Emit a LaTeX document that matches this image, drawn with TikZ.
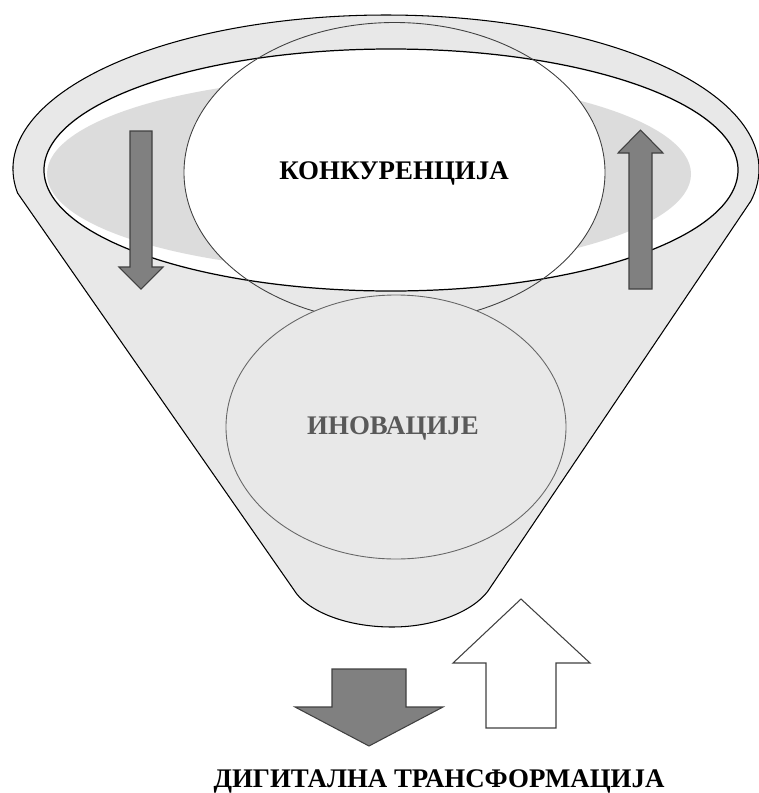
\documentclass[tikz,border=0pt]{standalone}
\usepackage{fontspec}
\setmainfont{Liberation Serif}
\definecolor{funnelgray}{HTML}{E8E8E8}
\definecolor{shadegray}{HTML}{DCDCDC}
\definecolor{arrowgray}{HTML}{808080}
\definecolor{linegray}{HTML}{404040}
\definecolor{textgray}{HTML}{595959}

\begin{document}
\begin{tikzpicture}[x=0.2mm,y=-0.2mm,
        outline/.style={draw=black,line width=0.6pt},
        thinline/.style={draw=linegray,line width=0.5pt},
        blockarrow/.style={draw=linegray,line width=0.6pt,line join=miter},
        headtext/.style={font=\bfseries\fontsize{15.3}{18}\selectfont,anchor=base,inner sep=0pt}]
    \useasboundingbox (0,0) rectangle (759,793);

    % funnel
    \path[outline,fill=funnelgray] (17.6,193.1) arc[start angle=171,end angle=372,x radius=373,y radius=154]
        -- (490,588) .. controls (478,608) and (440,627) .. (392,627)
        .. controls (344,627) and (306,610) .. (294,590) -- cycle;

    % rim
    \path[fill=white] (391,170) ellipse[x radius=347,y radius=121];
    \path[fill=shadegray] (369,174) ellipse[x radius=322,y radius=97];
    \begin{scope}
        \clip (391,170) ellipse[x radius=347,y radius=121];
        \path[fill=white] (394.5,172.5) ellipse[x radius=210.5,y radius=150];
    \end{scope}
    \path[outline,line width=0.7pt] (391,170) ellipse[x radius=347,y radius=121];
    \path[thinline] (394.5,172.5) ellipse[x radius=210.5,y radius=150];

    \path[thinline,draw=linegray!80,fill=funnelgray] (396,427) ellipse[x radius=170,y radius=132];

    % arrows in the rim
    \path[blockarrow,fill=arrowgray] (130,131) -- (152,131) -- (152,267) -- (163,267) -- (141,289) -- (119,267) -- (130,267) -- cycle;
    \path[blockarrow,fill=arrowgray] (629,289) -- (652,289) -- (652,153) -- (663,153) -- (640.5,130) -- (618,153) -- (629,153) -- cycle;

    % arrows below
    \path[blockarrow,fill=arrowgray] (332,669) -- (406,669) -- (406,707) -- (443,707) -- (369,746) -- (295,707) -- (332,707) -- cycle;
    \path[blockarrow,fill=white] (486,728) -- (556,728) -- (556,663) -- (590,663) -- (521,599) -- (453,663) -- (486,663) -- cycle;

    \node[headtext] (konk) at (394,179) {КОНКУРЕНЦИЈА};
    \node[headtext,text=textgray] (inov) at (393,434) {ИНОВАЦИЈЕ};
    \node[headtext] (digit) at (439,787) {ДИГИТАЛНА ТРАНСФОРМАЦИЈА};
\end{tikzpicture}
\end{document}
